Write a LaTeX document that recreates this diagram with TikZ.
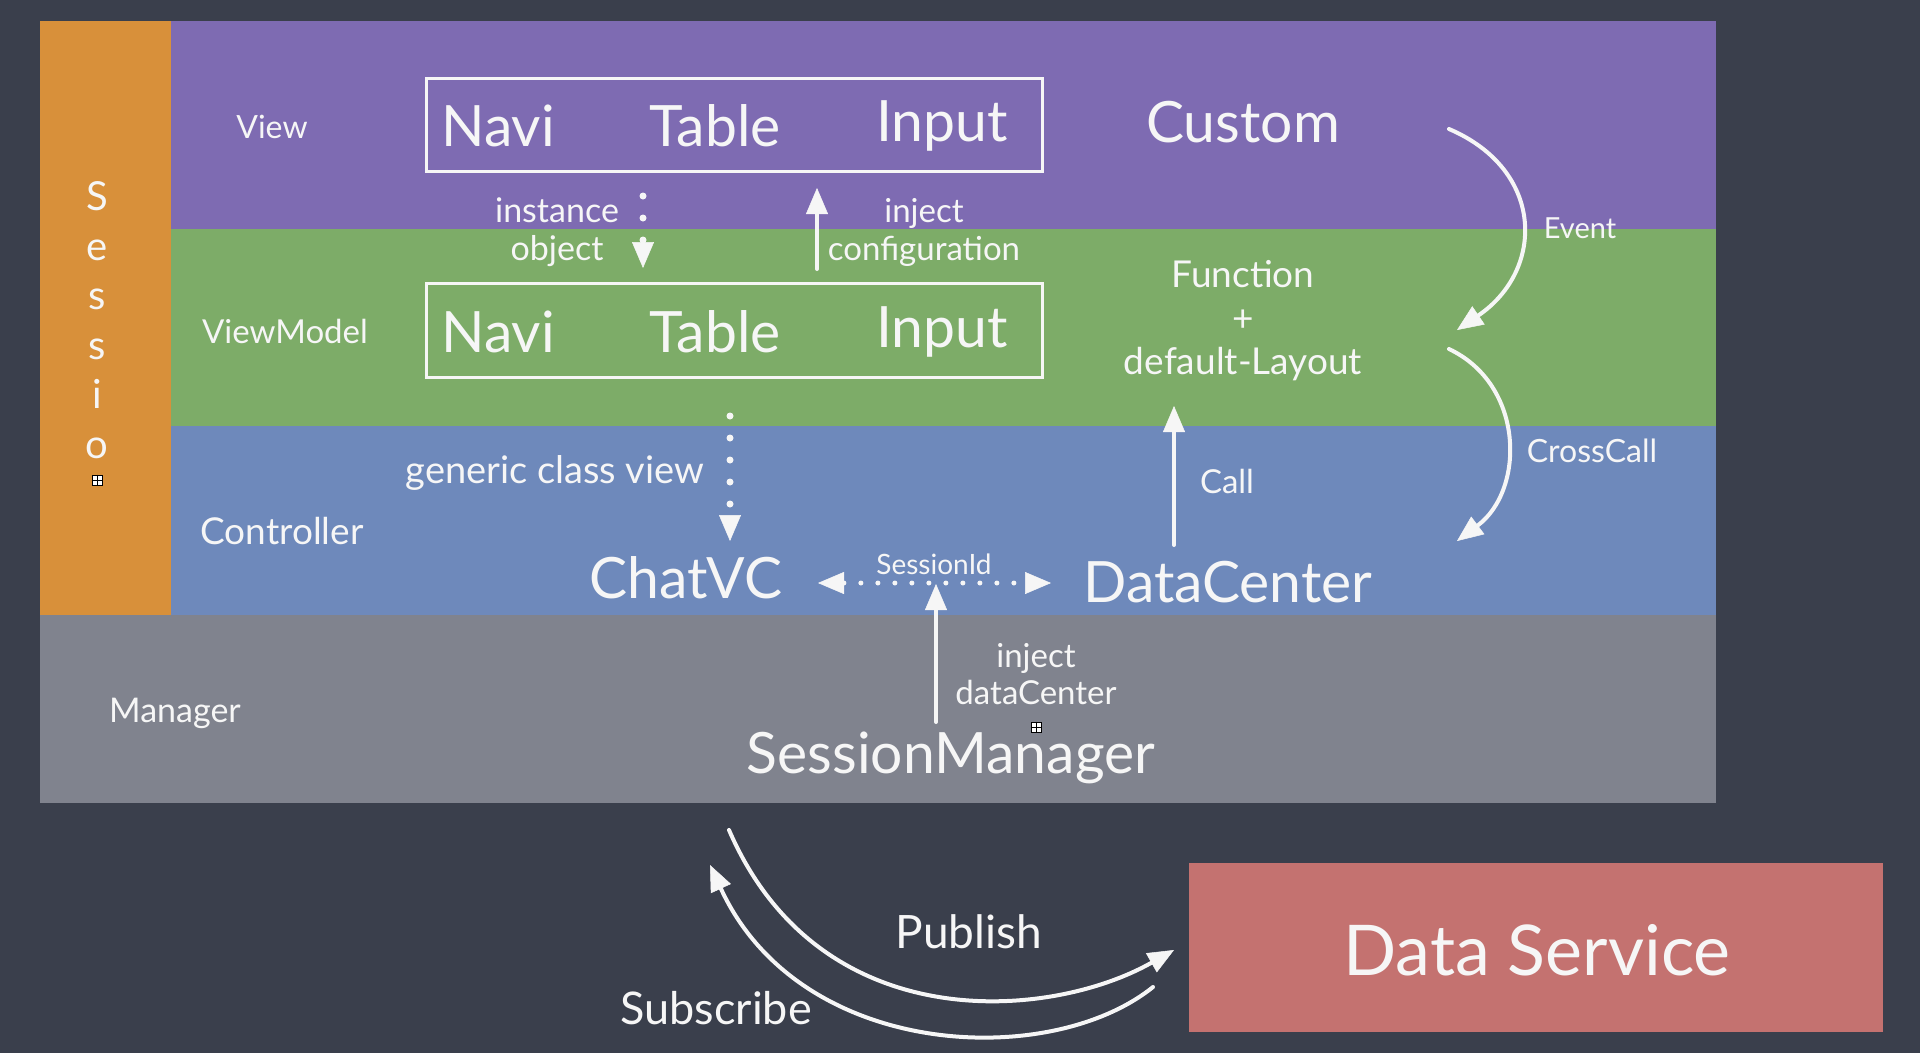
\documentclass[tikz,border=0pt]{standalone}
\usepackage{fontspec}
\setmainfont{Lato}
\usetikzlibrary{arrows.meta}
\definecolor{bgc}{RGB}{58,63,76}
\definecolor{orangec}{RGB}{216,144,58}
\definecolor{purplec}{RGB}{126,107,178}
\definecolor{greenc}{RGB}{125,172,104}
\definecolor{bluec}{RGB}{110,137,187}
\definecolor{grayc}{RGB}{128,131,142}
\definecolor{redc}{RGB}{196,114,112}
\definecolor{chalkc}{RGB}{246,246,246}
\newcommand{\fsz}[2]{\fontsize{#1}{#2}\selectfont}
\begin{document}
\begin{tikzpicture}[x=1pt,y=-1pt,
  lbl/.style={text=chalkc, font=\fsz{34}{38}, align=center, inner sep=0pt},
  big/.style={text=chalkc, font=\fsz{57}{62}, inner sep=0pt},
  chalk/.style={draw=chalkc, line width=4pt, line cap=round},
  boxline/.style={draw=chalkc, line width=3pt},
  tipend/.style={-{Triangle[length=26pt,width=22pt,line width=0.5pt]}},
  bothends/.style={{Triangle[length=26pt,width=22pt,line width=0.5pt]}-{Triangle[length=26pt,width=22pt,line width=0.5pt]}},
  dotline/.style={draw=chalkc, line width=7pt, line cap=round, dash pattern=on 0pt off 22pt},
  glyphbox/.style={draw=black, fill=white, line width=0.8pt, minimum width=10pt, minimum height=10pt, inner sep=0pt}
]
\useasboundingbox (0,0) rectangle (1920,1053);
\fill[bgc] (0,0) rectangle (1920,1053);

% bands
\fill[orangec] (40,21) rectangle (171,615);
\fill[purplec] (171,21) rectangle (1716,229);
\fill[greenc] (171,229) rectangle (1716,426);
\fill[bluec] (171,426) rectangle (1716,615);
\fill[grayc] (40,615) rectangle (1716,803);
\fill[redc] (1189,863) rectangle (1883,1032);

% Session column
\node[text=chalkc, font=\fsz{40}{49.5}, align=center, inner sep=0pt] (sess) at (97,320) {S\\e\\s\\s\\i\\o};
\node[glyphbox] (gb1) at (97,480) {};
\draw[black, line width=0.8pt] (gb1.west) -- (gb1.east) (gb1.north) -- (gb1.south);

% layer labels
\node[lbl, font=\fsz{32}{38}] (lview) at (272,127) {View};
\node[lbl, font=\fsz{33}{38}] (lvm) at (285,331) {ViewModel};
\node[lbl, font=\fsz{37}{38}] (lctl) at (282,531) {Controller};
\node[lbl, font=\fsz{34}{38}] (lman) at (175,713) {Manager};

% view box
\draw[boxline] (426,78) rectangle (1042,171);
\node[big] (vnavi) at (498,126) {Navi};
\node[big] (vtable) at (715,126) {Table};
\node[big] (vinput) at (942,126) {Input};
\node[big] (custom) at (1243,122) {Custom};

% viewmodel box
\draw[boxline] (426,283) rectangle (1042,377);
\node[big] (mnavi) at (498,332) {Navi};
\node[big] (mtable) at (715,332) {Table};
\node[big] (minput) at (942,332) {Input};

\node[lbl, font=\fsz{37}{43.5}] (func) at (1243,321) {Function\\+\\default-Layout};

% instance object
\node[lbl] (inst) at (557,232) {instance\\object};
\coordinate (io1) at (643,196);
\coordinate (io2) at (643,268);
\draw[dotline, tipend] (io1) -- (io2);

% inject configuration
\node[lbl, font=\fsz{33}{38}] (injc) at (924,232) {inject\\configuration};
\coordinate (ic1) at (817,269);
\coordinate (ic2) at (817,188);
\draw[chalk, tipend] (ic1) -- (ic2);

% Event / CrossCall
\coordinate (ev1) at (1449,129);
\coordinate (ev2) at (1457,330);
\draw[chalk, tipend] (ev1) .. controls (1545,170) and (1545,270) .. (ev2);
\node[lbl, font=\fsz{29}{34}] (event) at (1580,228) {Event};
\coordinate (cc1) at (1449,349);
\coordinate (cc2) at (1457,541);
\draw[chalk, tipend] (cc1) .. controls (1525,385) and (1525,490) .. (cc2);
\node[lbl, font=\fsz{32}{34}] (crosscall) at (1592,451) {CrossCall};

% controller row
\node[lbl, font=\fsz{38}{40}] (gcv) at (555,473) {generic class view};
\coordinate (gv1) at (730,416);
\coordinate (gv2) at (730,541);
\draw[dotline, tipend] (gv1) -- (gv2);

\node[big] (chatvc) at (686,578) {ChatVC};
\node[big] (datacenter) at (1228,582) {DataCenter};

\coordinate (call1) at (1174,545);
\coordinate (call2) at (1174,406);
\draw[chalk, tipend] (call1) -- (call2);
\node[lbl, font=\fsz{33}{34}] (call) at (1227,481) {Call};

\coordinate (sidL) at (818,583);
\coordinate (sidR) at (1051,583);
\draw[dotline, line width=5pt, dash pattern=on 0pt off 17pt, bothends] (sidL) -- (sidR);
\node[lbl, font=\fsz{28}{30}] (sid) at (934,564) {SessionId};

% manager row
\node[big] (smgr) at (951,758) {SessionManager};
\coordinate (sm1) at (936,722);
\coordinate (sm2) at (936,584);
\draw[chalk, tipend] (sm1) -- (sm2);
\node[lbl, font=\fsz{33}{37}] (injd) at (1036,674) {inject\\dataCenter};
\node[glyphbox] (gb2) at (1036,727) {};
\draw[black, line width=0.8pt] (gb2.west) -- (gb2.east) (gb2.north) -- (gb2.south);

% Data service
\node[lbl, font=\fsz{70}{74}] (ds) at (1537,950) {Data Service};

\coordinate (pub1) at (729,830);
\coordinate (pub2) at (1174,950);
\draw[chalk, tipend] (pub1) .. controls (820,1040) and (1050,1020) .. (pub2);
\coordinate (sub1) at (1153,987);
\coordinate (sub2) at (710,865);
\draw[chalk, tipend] (sub1) .. controls (1050,1070) and (800,1060) .. (sub2);
\node[lbl, font=\fsz{46}{48}] (pub) at (969,932) {Publish};
\node[lbl, font=\fsz{45}{48}] (sub) at (716,1008) {Subscribe};
\end{tikzpicture}
\end{document}
